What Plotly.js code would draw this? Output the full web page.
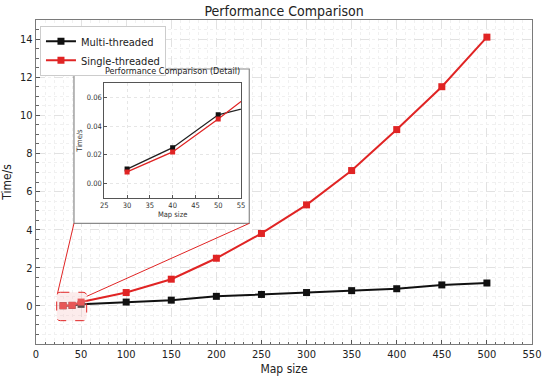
<!DOCTYPE html>
<html>
<head>
<meta charset="utf-8">
<script src="https://cdn.plot.ly/plotly-3.0.1.min.js"></script>
<style>html,body{margin:0;padding:0;background:#fff;}#chart{width:550px;height:382px;}</style>
</head>
<body>
<div id="chart"></div>
<script>
// Main chart data
var mapSizes = [30, 40, 50, 100, 150, 200, 250, 300, 350, 400, 450, 500];
var multiThreaded = [0.01, 0.025, 0.08, 0.2, 0.3, 0.5, 0.6, 0.7, 0.8, 0.9, 1.1, 1.2];
var singleThreaded = [0.008, 0.03, 0.2, 0.7, 1.4, 2.5, 3.8, 5.3, 7.1, 9.25, 11.5, 14.1];

// Inset (detail) data
var detailSizes = [30, 40, 50, 60];
var detailMulti = [0.010, 0.025, 0.048, 0.056];
var detailSingle = [0.008, 0.022, 0.045, 0.0695];

var xTicks = [0, 50, 100, 150, 200, 250, 300, 350, 400, 450, 500, 550];
var yTicks = [0, 2, 4, 6, 8, 10, 12, 14];
var detailXTicks = [25, 30, 35, 40, 45, 50, 55];
var detailYTicks = [0, 0.02, 0.04, 0.06];
var detailYLabels = ['0.00', '0.02', '0.04', '0.06'];

var RED = '#e02424';
var BLACK = '#111111';
var FONT = 'DejaVu Sans Condensed, DejaVu Sans, sans-serif';

var traces = [
  {x: mapSizes, y: multiThreaded, name: 'Multi-threaded', mode: 'lines+markers',
   line: {color: BLACK, width: 2}, marker: {symbol: 'square', size: 7, color: BLACK},
   xaxis: 'x', yaxis: 'y'},
  {x: mapSizes, y: singleThreaded, name: 'Single-threaded', mode: 'lines+markers',
   line: {color: RED, width: 2}, marker: {symbol: 'square', size: 7, color: RED},
   xaxis: 'x', yaxis: 'y'},
  {x: detailSizes, y: detailMulti, name: 'Multi-threaded', mode: 'lines+markers', showlegend: false,
   line: {color: '#222', width: 1.3}, marker: {symbol: 'square', size: 5, color: BLACK},
   xaxis: 'x2', yaxis: 'y2'},
  {x: detailSizes, y: detailSingle, name: 'Single-threaded', mode: 'lines+markers', showlegend: false,
   line: {color: RED, width: 1.3}, marker: {symbol: 'square', size: 5, color: RED},
   xaxis: 'x2', yaxis: 'y2'}
];

var axisCommon = {
  showline: true, linecolor: '#7a7a7a', linewidth: 1.2, mirror: true,
  ticks: 'inside', ticklen: 4, tickwidth: 1, tickcolor: '#555',
  gridcolor: '#e2e2e2', griddash: 'dash', gridwidth: 1,
  zeroline: false,
  tickfont: {family: FONT, size: 11, color: '#222'}
};

var layout = {
  width: 550, height: 382,
  margin: {l: 36, r: 18, t: 20, b: 38},
  paper_bgcolor: '#ffffff', plot_bgcolor: '#ffffff',
  font: {family: FONT, color: '#222'},
  title: {text: 'Performance Comparison', font: {family: FONT, size: 14, color: '#222'},
          x: 0.5165, xanchor: 'center', y: 0.972, yanchor: 'middle'},
  showlegend: true,
  legend: {x: 0.008, y: 0.982, xanchor: 'left', yanchor: 'top',
           bgcolor: '#ffffff', bordercolor: '#cccccc', borderwidth: 1,
           font: {family: FONT, size: 11, color: '#222'}, itemwidth: 30,
           tracegroupgap: 0},
  xaxis: Object.assign({}, axisCommon, {
    range: [0, 550], tickvals: xTicks, ticktext: xTicks.map(String),
    minor: {dtick: 10, ticks: 'inside', ticklen: 2.5, tickcolor: '#666', showgrid: true, gridcolor: '#f0f0f0', griddash: 'dot'},
    title: {text: 'Map size', font: {family: FONT, size: 12, color: '#222'}, standoff: 4},
    domain: [0, 1]
  }),
  yaxis: Object.assign({}, axisCommon, {
    range: [-2, 15], tickvals: yTicks, ticktext: yTicks.map(String),
    minor: {dtick: 0.5, ticks: 'inside', ticklen: 2.5, tickcolor: '#666', showgrid: true, gridcolor: '#f0f0f0', griddash: 'dot'},
    title: {text: 'Time/s', font: {family: FONT, size: 12, color: '#222'}, standoff: 8},
    domain: [0, 1]
  }),
  xaxis2: {
    anchor: 'y2', domain: [0.1377, 0.4133], range: [25, 55],
    tickmode: 'array', tickvals: detailXTicks, ticktext: detailXTicks.map(String), tickangle: 0,
    showline: true, linecolor: '#555', linewidth: 1, mirror: true,
    ticks: 'inside', ticklen: 3, tickcolor: '#555',
    showgrid: true, gridcolor: '#e6e6e6', griddash: 'dot', zeroline: false,
    tickfont: {family: FONT, size: 7.5, color: '#333'},
    title: {text: 'Map size', font: {family: FONT, size: 7.5, color: '#333'}, standoff: 2}
  },
  yaxis2: {
    anchor: 'x2', domain: [0.4515, 0.8046], range: [-0.01, 0.07],
    tickmode: 'array', tickvals: detailYTicks, ticktext: detailYLabels,
    showline: true, linecolor: '#555', linewidth: 1, mirror: true,
    ticks: 'inside', ticklen: 3, tickcolor: '#555',
    showgrid: true, gridcolor: '#e6e6e6', griddash: 'dot', zeroline: false,
    tickfont: {family: FONT, size: 7.5, color: '#333'},
    title: {text: 'Time/s', font: {family: FONT, size: 7.5, color: '#333'}, standoff: 3}
  },
  annotations: [
    {text: 'Performance Comparison (Detail)', xref: 'paper', yref: 'paper',
     x: 0.2755, y: 0.8195, xanchor: 'center', yanchor: 'bottom', showarrow: false,
     font: {family: FONT, size: 9, color: '#222'}}
  ],
  shapes: [
    // inset frame (white card)
    {type: 'rect', xref: 'x', yref: 'y', x0: 42.1, x1: 236.5, y0: 4.33, y1: 12.43,
     fillcolor: '#ffffff', line: {color: '#8a8a8a', width: 1.2}, layer: 'between'},
    // connectors
    {type: 'line', xref: 'x', yref: 'y', x0: 23.6, y0: 0.6, x1: 42.1, y1: 4.33,
     line: {color: RED, width: 1}},
    {type: 'line', xref: 'x', yref: 'y', x0: 56.2, y0: 0.5, x1: 236.5, y1: 4.33,
     line: {color: RED, width: 1}},
    // highlight rounded rect
    {type: 'path', xref: 'x', yref: 'y',
     path: 'M 27,0.714 L 52.2,0.714 Q 56.2,0.714 56.2,0.5 L 56.2,-0.56 Q 56.2,-0.776 52.2,-0.776 L 27,-0.776 Q 22.95,-0.776 22.95,-0.56 L 22.95,0.5 Q 22.95,0.714 27,0.714 Z',
     fillcolor: 'rgba(245,195,195,0.32)', line: {color: RED, width: 1, dash: 'dash'}, layer: 'above'}
  ]
};

Plotly.newPlot('chart', traces, layout, {displayModeBar: false, staticPlot: true});
</script>
</body>
</html>
